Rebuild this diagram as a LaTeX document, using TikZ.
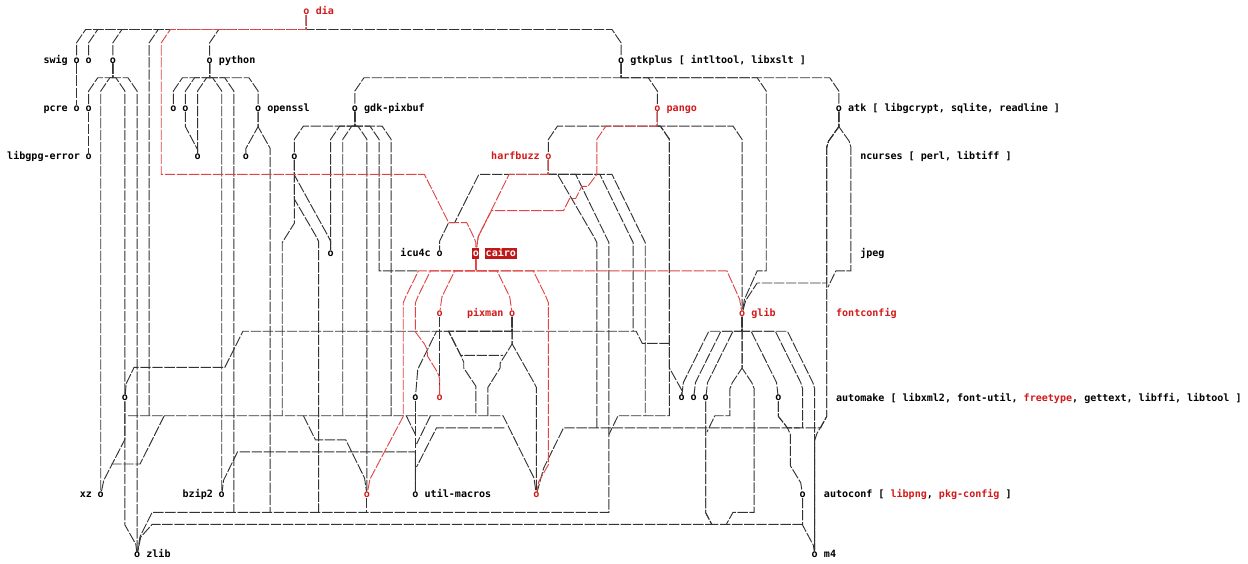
\documentclass[tikz,border=0pt]{standalone}
\usepackage{fontspec}
\newfontfamily\graphfont{DejaVu Sans Mono}
\definecolor{lnc}{HTML}{333333}
\definecolor{redl}{HTML}{E04646}
\definecolor{redt}{HTML}{D21A1A}
\definecolor{hlred}{HTML}{C01818}
\begin{document}
\begin{tikzpicture}[x=4.5375pt,y=-9.0525pt,font=\graphfont\bfseries\fontsize{7.54}{9}\selectfont,
 pkg/.style={inner sep=0pt},
 hot/.style={inner sep=0pt,text=redt},
 hl/.style={fill=hlred,text=white,inner xsep=0.4pt,inner ysep=0.5pt,text height=5.9pt,text depth=1.8pt},
 lbl/.style={anchor=base west,inner sep=0pt},
 ln/.style={draw=lnc,line width=0.7pt,dash pattern=on 7.8pt off 1.25pt},
 rl/.style={ln,draw=redl}]
\fill[white] (-1.653,-0.994) rectangle (204.63,45.73);
\useasboundingbox (-1.653,-0.994) rectangle (204.63,45.73);
\node[hot] (dia) at (49,0) {o};
\node[pkg] (swig) at (11,4) {o};
\node[pkg] (intltool) at (13,4) {o};
\node[pkg] (libxslt) at (17,4) {o};
\node[pkg] (python) at (33,4) {o};
\node[pkg] (gtkplus) at (101,4) {o};
\node[pkg] (pcre) at (11,8) {o};
\node[pkg] (libgcrypt) at (13,8) {o};
\node[pkg] (sqlite) at (27,8) {o};
\node[pkg] (readline) at (29,8) {o};
\node[pkg] (openssl) at (41,8) {o};
\node[pkg] (gdkpixbuf) at (57,8) {o};
\node[hot] (pango) at (107,8) {o};
\node[pkg] (atk) at (137,8) {o};
\node[pkg] (libgpgerror) at (13,12) {o};
\node[pkg] (ncurses) at (31,12) {o};
\node[pkg] (perl) at (39,12) {o};
\node[pkg] (libtiff) at (47,12) {o};
\node[hot] (harfbuzz) at (89,12) {o};
\node[pkg] (jpeg) at (53,20) {o};
\node[pkg] (icu4c) at (71,20) {o};
\node[hl] (cairo) at (77,20) {o};
\node[hot] (fontconfig) at (71,25) {o};
\node[hot] (pixman) at (83,25) {o};
\node[hot] (glib) at (121,25) {o};
\node[pkg] (libxml2) at (19,32) {o};
\node[pkg] (fontutil) at (67,32) {o};
\node[hot] (freetype) at (71,32) {o};
\node[pkg] (gettext) at (111,32) {o};
\node[pkg] (libffi) at (113,32) {o};
\node[pkg] (libtool) at (115,32) {o};
\node[pkg] (automake) at (127,32) {o};
\node[pkg] (xz) at (15,40) {o};
\node[pkg] (bzip2) at (35,40) {o};
\node[hot] (libpng) at (59,40) {o};
\node[pkg] (utilmacros) at (67,40) {o};
\node[hot] (pkgconfig) at (87,40) {o};
\node[pkg] (autoconf) at (131,40) {o};
\node[pkg] (zlib) at (21,45) {o};
\node[pkg] (m4) at (133,45) {o};
\node[lbl,text=redt] at (50.5,0.23) {dia};
\node[lbl] at (5.5,4.23) {swig};
\node[lbl] at (34.5,4.23) {python};
\node[lbl] at (102.5,4.23) {gtkplus [ intltool, libxslt ]};
\node[lbl] at (5.5,8.23) {pcre};
\node[lbl] at (42.5,8.23) {openssl};
\node[lbl] at (58.5,8.23) {gdk-pixbuf};
\node[lbl,text=redt] at (108.5,8.23) {pango};
\node[lbl] at (138.5,8.23) {atk [ libgcrypt, sqlite, readline ]};
\node[lbl] at (-0.5,12.23) {libgpg-error};
\node[lbl,text=redt] at (79.5,12.23) {harfbuzz};
\node[lbl] at (140.5,12.23) {ncurses [ perl, libtiff ]};
\node[lbl] at (64.5,20.23) {icu4c};
\node[hl,anchor=base west] at (78.5,20.23) {cairo};
\node[lbl] at (140.5,20.23) {jpeg};
\node[lbl,text=redt] at (75.5,25.23) {pixman};
\node[lbl,text=redt] at (122.5,25.23) {glib};
\node[lbl,text=redt] at (136.5,25.23) {fontconfig};
\node[lbl] at (136.5,32.23) {automake [ libxml2, font-util, \textcolor{redt}{freetype}, gettext, libffi, libtool ]};
\node[lbl] at (11.5,40.23) {xz};
\node[lbl] at (28.5,40.23) {bzip2};
\node[lbl] at (68.5,40.23) {util-macros};
\node[lbl] at (134.5,40.23) {autoconf [ \textcolor{redt}{libpng}, \textcolor{redt}{pkg-config} ]};
\node[lbl] at (22.5,45.23) {zlib};
\node[lbl] at (134.5,45.23) {m4};
\foreach \nd/\cx in {swig/11,intltool/13,libxslt/17,python/33}
 {\draw[ln] (dia) -- (49,1.45) -- ({\cx+1.5},1.45) -- (\cx,2.55) -- (\nd);}
\draw[ln] (dia) -- (49,1.45) -- (24.5,1.45) -- (23,2.55) -- (23,33.45);
\draw[ln] (dia) -- (49,1.45) -- (99.5,1.45) -- (101,2.55) -- (gtkplus);
\draw[ln] (swig) -- (pcre);
\draw[ln] (libgcrypt) -- (libgpgerror);
\foreach \nd/\bx/\cx in {libgcrypt/14.5/13,xz/16.5/15,libxml2/17.5/19,zlib/19.5/21}
 {\draw[ln] (libxslt) -- (17,5.45) -- (\bx,5.45) -- (\cx,6.55) -- (\nd);}
\foreach \nd/\bx/\cx in {sqlite/28.5/27,readline/30.5/29,ncurses/32.5/31,bzip2/33.5/35,openssl/39.5/41}
 {\draw[ln] (python) -- (33,5.45) -- (\bx,5.45) -- (\cx,6.55) -- (\nd);}
\draw[ln] (python) -- (33,5.45) -- (35.5,5.45) -- (37,6.55) -- (37,41.45);
\draw[ln] (readline) -- (29,9.5) -- (31,11.4) -- (ncurses);
\draw[ln] (openssl) -- (41,9.5) -- (39,11.3) -- (perl);
\draw[ln] (openssl) -- (41,9.5) -- (43,11.3) -- (43,41.45);
\foreach \nd/\bx/\cx in {gdkpixbuf/58.5/57,pango/105.5/107,atk/135.5/137}
 {\draw[ln] (gtkplus) -- (101,5.45) -- (\bx,5.45) -- (\cx,6.55) -- (\nd);}
\draw[ln] (gtkplus) -- (101,5.45) -- (123.5,5.45) -- (125,6.55) -- (125,21.45) -- (123.5,21.45) -- (121.4,23.8) -- (glib);
\foreach \nd/\bx/\cx in {libtiff/48.5/47,jpeg/54.5/53,libpng/57.5/59}
 {\draw[ln] (gdkpixbuf) -- (57,9.45) -- (\bx,9.45) -- (\cx,10.55) -- (\nd);}
\draw[ln] (gdkpixbuf) -- (57,9.45) -- (56.5,9.45) -- (55,10.55) -- (55,33.45);
\draw[ln] (gdkpixbuf) -- (57,9.45) -- (59.5,9.45) -- (61,10.55) -- (61,21.45) -- (67.5,21.45);
\draw[ln] (gdkpixbuf) -- (57,9.45) -- (61.5,9.45) -- (63,10.55) -- (63,33.45);
\draw[ln] (libtiff) -- (47,17.5) -- (45,19.1) -- (45,33.45);
\draw[ln] (libtiff) -- (47,13.5) -- (52.5,18.5) -- (53,19) -- (jpeg);
\draw[ln] (libtiff) -- (47,15.5) -- (50.5,18.5) -- (51,19) -- (51,41.45);
\draw[ln] (pango) -- (107,9.45) -- (90.5,9.45) -- (89,10.55) -- (harfbuzz);
\draw[ln] (pango) -- (107,9.45) -- (107.5,9.45) -- (109,10.55) -- (109,29.5) -- (111,31.3) -- (gettext);
\draw[ln] (pango) -- (107,9.45) -- (107.5,9.45) -- (109,10.55) -- (109,33.45) -- (100.5,33.45) -- (99,35);
\draw[ln] (pango) -- (107,9.45) -- (119.5,9.45) -- (121,10.55) -- (glib);
\draw[ln] (harfbuzz) -- (89,13.45) -- (77.5,13.45) -- (73.5,17.45) -- (72.5,17.45) -- (71,19) -- (icu4c);
\draw[ln] (harfbuzz) -- (89,13.45) -- (90.5,13.45) -- (96.6,18.7) -- (97,19.1) -- (97,34.45);
\draw[ln] (harfbuzz) -- (89,13.45) -- (93.5,13.45) -- (98.6,18.7) -- (99,19.1) -- (99,41.45) -- (23.5,41.45) -- (21.5,43.45) -- (zlib);
\draw[ln] (harfbuzz) -- (89,13.45) -- (97.5,13.45) -- (102.6,18.7) -- (103,19.1) -- (103,26.45);
\draw[ln] (harfbuzz) -- (89,13.45) -- (99.5,13.45) -- (104.6,18.7) -- (105,19.1) -- (105,33.45);
\draw[ln] (pixman) -- (83,26.45) -- (38.5,26.45) -- (35.5,29.45) -- (20.5,29.45) -- (19.2,30.8) -- (libxml2);
\draw[ln] (pixman) -- (83,26.45) -- (103.5,26.45) -- (104.5,27.45) -- (109,27.45);
\draw[ln] (pixman) -- (83,26.45) -- (70.5,26.45) -- (67.4,29.6) -- (fontutil);
\draw[ln] (pixman) -- (83,26.45) -- (72.5,26.45) -- (74.5,28.45) -- (81.5,28.45);
\draw[ln] (pixman) -- (83,26.45) -- (72.5,26.45) -- (74.5,28.45) -- (75,29) -- (75,29.5) -- (77,31) -- (77,33.45);
\draw[ln] (pixman) -- (83,27.5) -- (81,29.1) -- (81,29.5) -- (79,31.1) -- (79,33.45);
\draw[ln] (pixman) -- (83,27.5) -- (86.6,30.7) -- (87,31.1) -- (pkgconfig);
\draw[ln] (fontconfig) -- (freetype);
\draw[ln] (fontutil) -- (utilmacros);
\coordinate (b33) at (19.5,33.45);
\draw[ln] (b33) -- (81.5,33.45) -- (86.6,38.6) -- (pkgconfig);
\draw[ln] (25.5,33.45) -- (21.5,37.45) -- (16.6,37.45);
\draw[ln] (libxml2) -- (19,35.4) -- (15.5,38.8) -- (xz);
\draw[ln] (libxml2) -- (19,42.5) -- (20.8,44.1) -- (zlib);
\draw[ln] (48.5,33.45) -- (50.5,35.45) -- (55.5,35.45) -- (58.6,38.6) -- (libpng);
\draw[ln] (65.5,33.45) -- (67,35);
\draw[ln] (69.5,33.45) -- (67.2,35.8);
\draw[ln] (81.7,34.45) -- (70.5,34.45) -- (67.2,37.7);
\draw[ln] (utilmacros) -- (67,36.45) -- (37.6,36.45) -- (35.3,38.8) -- (bzip2);
\draw[ln] (atk) -- (137,9.5) -- (135.3,10.7) -- (135,11.2) -- (135,33.5) -- (134,34.45) -- (91.5,34.45) -- (88.2,37.8) -- (pkgconfig);
\draw[ln] (atk) -- (137,9.5) -- (135.3,10.7) -- (135,11.2) -- (135,22.45) -- (123.5,22.45) -- (121.6,23.9) -- (glib);
\draw[ln] (atk) -- (137,9.5) -- (135.3,10.7) -- (135,11.2) -- (135,33.5) -- (133.4,34.9) -- (133,35.5) -- (m4);
\draw[ln] (atk) -- (137,9.5) -- (138.7,10.7) -- (139,11.2) -- (139,21.45) -- (136.5,21.45) -- (135.2,22.8);
\foreach \nd/\bx in {gettext/115.5,libffi/117.5,libtool/119.5}
 {\draw[ln] (glib) -- (121,26.45) -- (\bx,26.45) -- ({\bx-4.2},30.7) -- (\nd);}
\draw[ln] (glib) -- (121,26.45) -- (122.5,26.45) -- (126.7,30.7) -- (automake);
\draw[ln] (glib) -- (121,26.45) -- (126.5,26.45) -- (130.7,30.7) -- (131,31.2) -- (131,34.45);
\draw[ln] (glib) -- (121,26.45) -- (128.5,26.45) -- (132.7,30.7) -- (133,31.2) -- (m4);
\draw[ln] (glib) -- (121,29.5) -- (119.4,30.7) -- (119,31.2) -- (119,33.45) -- (116.5,33.45) -- (115.2,34.8);
\draw[ln] (glib) -- (121,29.5) -- (122.6,30.7) -- (123,31.2) -- (123,41.45) -- (119.5,41.45) -- (118.4,42.45);
\draw[ln] (automake) -- (127,33.5) -- (128.5,34.45) -- (130.5,34.45);
\draw[ln] (automake) -- (127,33.5) -- (128.5,34.45) -- (129,35) -- (129,37.6) -- (130.7,39) -- (autoconf);
\draw[ln] (libtool) -- (115,41.5) -- (116,42.45) -- (131,42.45);
\draw[ln] (libtool) -- (115,41.5) -- (116,42.45) -- (23.5,42.45) -- (21.6,43.5) -- (zlib);
\draw[ln] (autoconf) -- (131,42.5) -- (132.8,44.2) -- (m4);
\draw[ln] (libpng) -- (59,41.45);
\draw[rl] (dia) -- (49,1.45) -- (26.5,1.45) -- (25,2.55) -- (25,13.45) -- (68.5,13.45) -- (72.5,17.45) -- (75.5,17.45) -- (76.7,18.7) -- (77,19.1) -- (cairo);
\draw[rl] (harfbuzz) -- (89,13.45) -- (82.5,13.45) -- (77.4,18.6) -- (cairo);
\draw[rl] (pango) -- (107,9.45) -- (98.5,9.45) -- (97,10.55) -- (97,13.45) -- (95.5,14.45) -- (94.5,14.45) -- (93.5,15.45) -- (92.5,15.45) -- (91.5,16.45) -- (79.6,16.45) -- (77.4,18.6) -- (cairo);
\draw[rl] (cairo) -- (77,21.45) -- (73.5,21.45) -- (71.4,23.6) -- (fontconfig);
\draw[rl] (cairo) -- (77,21.45) -- (80.5,21.45) -- (82.6,23.6) -- (pixman);
\draw[rl] (cairo) -- (77,21.45) -- (69.5,21.45) -- (67.4,23.6) -- (67,24.1) -- (67,26.5) -- (68.5,27.5) -- (69,28) -- (69,28.5) -- (70.6,29.8) -- (71,30.3) -- (freetype);
\draw[rl] (cairo) -- (77,21.45) -- (67.5,21.45) -- (65.4,23.6) -- (65,24.1) -- (65,33.5) -- (59.5,38.7) -- (libpng);
\draw[rl] (cairo) -- (77,21.45) -- (86.5,21.45) -- (88.6,23.6) -- (89,24.1) -- (89,37.5) -- (87.4,38.9) -- (pkgconfig);
\draw[rl] (cairo) -- (77,21.45) -- (118.5,21.45) -- (120.6,23.8) -- (glib);
\end{tikzpicture}
\end{document}
